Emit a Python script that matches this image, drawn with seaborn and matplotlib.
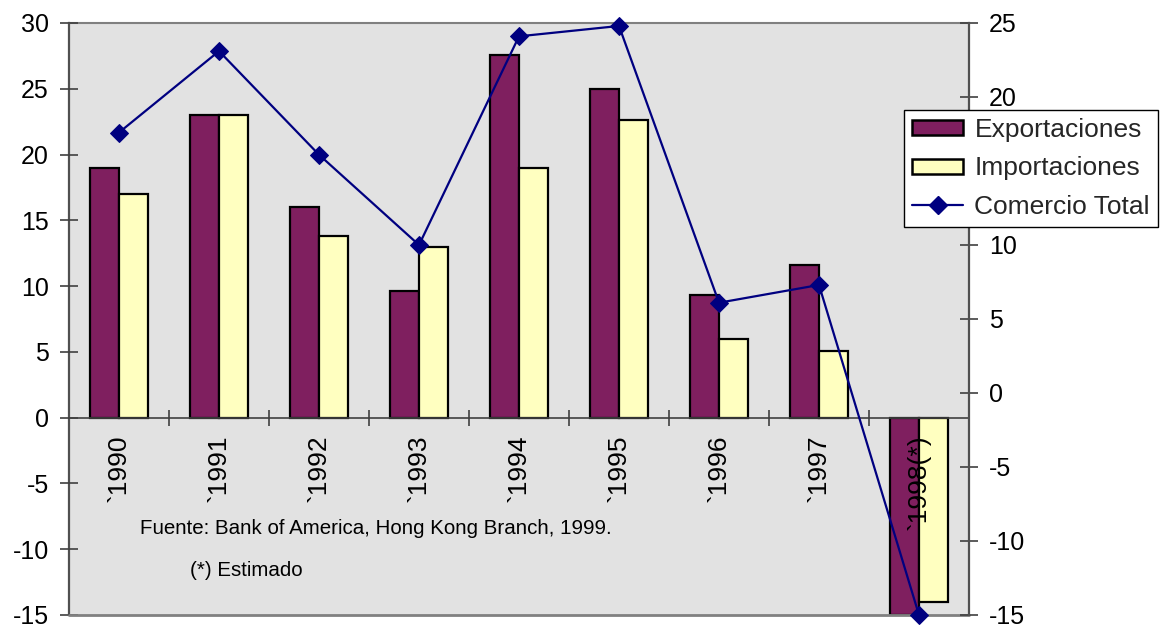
import numpy as np
import pandas as pd
import matplotlib
matplotlib.use("Agg")
import matplotlib.pyplot as plt
from matplotlib.patches import Patch
from matplotlib.lines import Line2D
import seaborn as sns

# Hong Kong trade growth (%), Bank of America figures
years = ["`1990", "`1991", "`1992", "`1993", "`1994", "`1995", "`1996", "`1997", "`1998(*)"]
exportaciones = [19.0, 23.0, 16.0, 9.6, 27.6, 25.0, 9.3, 11.6, -15.0]
importaciones = [17.0, 23.0, 13.8, 13.0, 19.0, 22.6, 6.0, 5.1, -14.0]
comercio_total = [17.6, 23.1, 16.1, 10.0, 24.1, 24.8, 6.1, 7.3, -15.0]

series_names = ["Exportaciones", "Importaciones", "Comercio Total"]
left_ticks = list(range(-15, 31, 5))
right_ticks = list(range(-15, 26, 5))

bar_colors = ["#7F1F5F", "#FFFFC0"]
line_color = "#000080"
plot_bg = "#E2E2E2"
axis_grey = "#808080"
axis_dark = "#505050"

sns.set_theme(style="white")
plt.rcParams["font.family"] = ["Liberation Sans", "DejaVu Sans"]
plt.rcParams["axes.unicode_minus"] = False

df = pd.DataFrame({
    "year": years * 2,
    "value": exportaciones + importaciones,
    "serie": [series_names[0]] * len(years) + [series_names[1]] * len(years),
})

fig = plt.figure(figsize=(11.68, 6.28), dpi=100)
ax = fig.add_axes([69 / 1168, 1 - 615 / 628, 900 / 1168, 592 / 628])
ax.set_facecolor(plot_bg)

sns.barplot(data=df, x="year", y="value", hue="serie", order=years,
            hue_order=series_names[:2], palette=bar_colors, width=0.58,
            edgecolor="black", linewidth=1.6, saturation=1, legend=False, ax=ax)
# category labels are drawn over the bars
ax.set_axisbelow(False)

ax.set_xlim(-0.5, len(years) - 0.5)
ax.set_ylim(left_ticks[0], left_ticks[-1])
ax.set_yticks(left_ticks)
ax.set_xlabel("")
ax.set_ylabel("")

# category axis crosses the value axis at zero
ax.spines["bottom"].set_position(("data", 0))
ax.spines["bottom"].set_color("#404040")
ax.spines["bottom"].set_linewidth(1.2)
ax.spines["top"].set_color(axis_grey)
ax.spines["top"].set_linewidth(1.5)
ax.spines["left"].set_color(axis_dark)
ax.spines["left"].set_linewidth(1.6)
ax.spines["right"].set_visible(False)
# lower border of the plot area
ax.plot([0, 1], [0, 0], transform=ax.transAxes, color=axis_grey, lw=2.0,
        clip_on=False, zorder=3)

n = len(years)
ax.set_xticks(np.arange(n - 1) + 0.5)
ax.set_xticklabels([])
ax.set_xticks(np.arange(n), minor=True)
ax.set_xticklabels(years, minor=True, rotation=90)
ax.tick_params(axis="x", which="major", direction="inout", length=11.5,
               width=1.2, color="#404040", bottom=True)
ax.tick_params(axis="x", which="minor", length=0, pad=12, labelsize=19,
               labelcolor="black", bottom=True)
ax.tick_params(axis="y", direction="inout", length=13, width=1.2,
               color="#404040", pad=8, labelsize=18, labelcolor="black", left=True)

# total trade on the secondary axis
ax2 = ax.twinx()
sns.lineplot(x=np.arange(n), y=comercio_total, ax=ax2, color=line_color,
             marker="D", markersize=9.5, markeredgecolor=line_color,
             linewidth=1.6, clip_on=False)
ax2.set_ylim(right_ticks[0], right_ticks[-1])
ax2.set_yticks(right_ticks)
ax2.set_ylabel("")
for side in ["left", "top", "bottom"]:
    ax2.spines[side].set_visible(False)
ax2.spines["right"].set_color(axis_dark)
ax2.spines["right"].set_linewidth(1.6)
ax2.tick_params(axis="y", direction="inout", length=13, width=1.2,
                color="#404040", pad=8, labelsize=18, labelcolor="black", right=True)

handles = [
    Patch(facecolor=bar_colors[0], edgecolor="black", linewidth=1.8),
    Patch(facecolor=bar_colors[1], edgecolor="black", linewidth=1.8),
    Line2D([], [], color=line_color, marker="D", markersize=9, linewidth=1.6),
]
leg = fig.legend(handles, series_names, loc="upper left",
                 bbox_to_anchor=(904 / 1168, 1 - 110 / 628),
                 frameon=True, fancybox=False, framealpha=1, facecolor="white",
                 edgecolor="black", fontsize=19, handlelength=1.95,
                 handleheight=0.5, handletextpad=0.42, labelspacing=0.55,
                 borderpad=0.3, borderaxespad=0)
leg.get_frame().set_linewidth(1.0)

fig.text(140 / 1168, 1 - 528 / 628, "Fuente: Bank of America, Hong Kong Branch, 1999.",
         fontsize=14.8, va="center", ha="left", color="black")
fig.text(190 / 1168, 1 - 570 / 628, "(*) Estimado",
         fontsize=14.8, va="center", ha="left", color="black")

fig.savefig("out.png", dpi=100, facecolor="white")
